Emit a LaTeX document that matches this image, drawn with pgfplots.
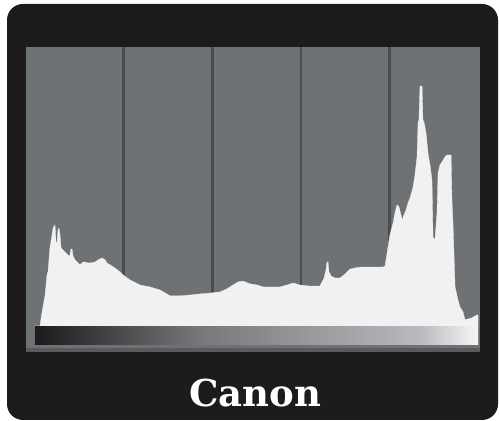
\documentclass[border=0pt]{standalone}
\usepackage{pgfplots}
\pgfplotsset{compat=1.18}
\usepackage{fontspec}
\newfontfamily\logofont{DejaVu Serif}
\definecolor{frameblack}{RGB}{30,27,28}
\definecolor{panelgray}{RGB}{111,114,116}
\definecolor{divgray}{RGB}{74,77,80}
\definecolor{histwhite}{RGB}{241,241,241}
\definecolor{barA}{RGB}{28,26,28}
\definecolor{barB}{RGB}{120,120,122}
\definecolor{barC}{RGB}{185,186,190}
\definecolor{barD}{RGB}{246,246,246}
\pgfplotstableread{
b c
0 0
2.9 0
3.5 2.9
5.8 11.1
6.9 18.3
7.5 19.4
8.6 28.0
9.8 32.6
10.4 35.1
11.5 36.2
12.1 30.1
12.7 29.7
13.2 34.4
13.8 35.1
14.4 32.6
15.0 28.0
16.1 27.2
17.3 26.5
19.0 25.4
20.1 25.1
20.7 27.6
21.3 27.6
21.9 25.1
23.0 23.7
24.8 22.6
25.9 21.9
27.6 22.9
28.8 22.9
30.5 22.6
31.7 22.6
34.5 22.9
36.3 23.7
38.6 24.4
40.3 23.7
41.4 22.6
43.2 21.9
46.0 20.8
48.9 19.4
50.7 18.3
54.7 16.5
60.4 14.7
66.2 14.0
72.0 12.9
77.7 10.8
83.5 10.8
89.2 11.1
95.0 11.5
100.7 11.8
106.5 12.2
110.5 13.3
114.0 14.7
116.9 15.8
119.7 16.1
123.8 15.1
127.8 14.7
131.2 14.0
135.3 14.0
141.0 14.0
145.1 14.7
148.5 15.4
152.5 14.7
158.3 14.3
164.0 14.3
166.4 17.2
167.5 20.1
168.1 22.9
168.7 22.9
169.2 19.4
170.4 17.9
172.7 17.2
175.6 17.2
178.4 18.6
181.3 20.4
184.2 20.8
187.1 21.1
192.8 21.1
196.9 21.1
200.3 21.1
201.5 21.5
203.2 28.3
204.3 32.6
206.1 36.9
207.2 40.5
208.4 43.4
209.5 42.7
210.7 39.8
211.3 38.0
212.4 39.8
213.6 41.6
214.7 44.1
215.9 45.9
217.6 49.8
218.7 54.1
219.9 60.6
220.5 72.8
221.0 73.8
221.6 86.0
222.8 86.0
223.3 73.8
223.9 73.1
225.1 69.2
226.2 62.0
227.4 57.7
228.5 52.3
229.1 31.9
230.2 30.8
231.4 40.5
232.0 54.8
233.1 57.7
234.3 58.8
236.0 60.6
237.2 61.3
239.5 61.3
240.0 45.2
240.6 36.9
241.8 14.0
243.5 9.3
244.6 6.8
246.4 5.0
247.5 2.2
249.2 2.5
251.5 2.9
253.3 3.6
254.4 3.9
255 3.9
255 0
}\histdata
\begin{document}
\begin{tikzpicture}[x=1pt,y=1pt]
\useasboundingbox (0,0) rectangle (499,421);
\fill[white] (0,0) rectangle (499,421);
\fill[frameblack, rounded corners=16pt] (7,1) rectangle (498,417);
\fill[panelgray] (26,69) rectangle (480,374);
\fill[panelgray!80!black] (26,69) rectangle (480,73);
\shade[left color=barA, right color=barB, shading angle=90] (35,76) rectangle (200.5,94);
\shade[left color=barB, right color=barC] (200,76) rectangle (420.5,94);
\shade[left color=barC, right color=barD] (420,76) rectangle (478,94);
\begin{axis}[
  at={(35pt,95pt)}, anchor=south west,
  scale only axis, width=443pt, height=279pt,
  xmin=0, xmax=255, ymin=0, ymax=100,
  axis line style={draw=none},
  xtick={51,102,153,204}, ytick=\empty,
  xticklabels={}, major tick length=0pt,
  xmajorgrids, grid style={divgray, line width=2.6pt},
  clip=true,
]
\addplot[fill=histwhite, draw=histwhite, line width=0.3pt] table[x=b,y=c] {\histdata} \closedcycle;
\end{axis}
\node[text=white, anchor=base, font=\logofont\bfseries\fontsize{37}{40}\selectfont] at (255,14) {Canon};
\end{tikzpicture}
\end{document}
